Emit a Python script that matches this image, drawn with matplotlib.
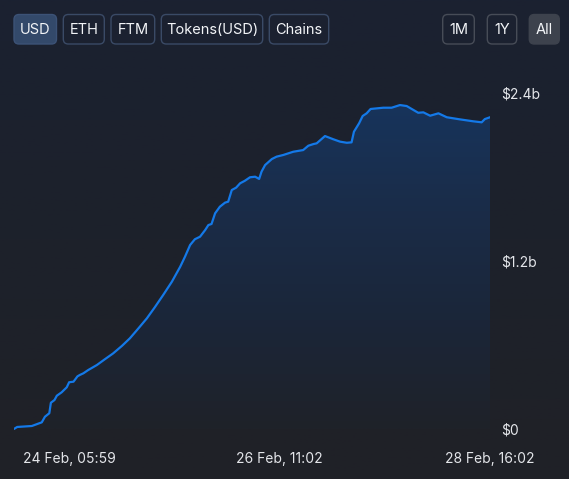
import numpy as np
import pandas as pd
import matplotlib
matplotlib.use("Agg")
import matplotlib.pyplot as plt
from matplotlib.patches import FancyBboxPatch
from matplotlib.colors import LinearSegmentedColormap

plt.rcParams['font.family'] = ['Inter', 'DejaVu Sans']

# hours since start, TVL in billions USD
hours = [0, 0.8, 4.5, 7.0, 7.8, 8.9, 9.3, 10.2, 10.8, 12.0, 13.3, 13.9, 15.0, 16.0,
         16.6, 17.5, 18.7, 20.9, 22.9, 25.0, 27.2, 29.2, 31.3, 33.5, 35.5, 37.6,
         39.8, 41.9, 43.1, 44.4, 45.6, 46.9, 48.2, 49.0,
         49.8, 50.7, 51.9, 53.2, 54.0, 54.9, 56.0, 57.0, 58.2, 59.5, 60.8, 61.8,
         62.4, 63.3, 65.0, 66.2, 67.9, 70.4, 72.9, 74.2, 75.5, 76.3, 78.4, 80.5,
         82.2, 83.9, 85.1, 85.7, 87.0, 87.9, 88.9, 89.9, 93.1, 95.2, 97.3, 99.0,
         101.9, 103.2, 104.9, 107.0, 109.1, 112.4, 115.8, 117.9, 118.7, 120.0]
tvl = [0.004, 0.018, 0.025, 0.051, 0.091, 0.116, 0.191, 0.210, 0.241, 0.265,
       0.301, 0.337, 0.341, 0.379,
       0.389, 0.401, 0.424, 0.460, 0.501, 0.543, 0.596, 0.650, 0.719, 0.793,
       0.872, 0.959, 1.054, 1.161, 1.232, 1.316, 1.357, 1.375, 1.423, 1.458,
       1.466, 1.542, 1.589, 1.618,
       1.625, 1.708, 1.725, 1.756, 1.774, 1.799, 1.803, 1.787, 1.839, 1.886,
       1.929, 1.946, 1.958, 1.981, 1.993, 2.024, 2.036, 2.041, 2.093, 2.070,
       2.053, 2.045, 2.048, 2.124, 2.184, 2.236, 2.255, 2.286, 2.295, 2.295,
       2.314, 2.307, 2.259, 2.262, 2.238, 2.255, 2.227, 2.212, 2.198, 2.191,
       2.214, 2.227]

start = pd.Timestamp('2024-02-23 16:02')
times = start + pd.to_timedelta(hours, unit='h')

xtick_times = [pd.Timestamp('2024-02-24 05:59'), pd.Timestamp('2024-02-26 11:02'),
               pd.Timestamp('2024-02-28 16:02')]
xtick_labels = ['24 Feb, 05:59', '26 Feb, 11:02', '28 Feb, 16:02']
ytick_vals = [0, 1.2, 2.4]
ytick_labels = ['$0', '$1.2b', '$2.4b']

buttons = ['USD', 'ETH', 'FTM', 'Tokens(USD)', 'Chains']
button_x = [(14, 56.5), (63.3, 104.3), (111, 154.7), (161.3, 262.7), (269.3, 328.7)]
ranges = ['1M', '1Y', 'All']
range_x = [(442.7, 474.3), (487.3, 516.7), (529.3, 559.3)]

W, H = 569, 479
fig = plt.figure(figsize=(W / 100, H / 100), dpi=100)

# background
bg = fig.add_axes([0, 0, 1, 1])
bg.set_xlim(0, W)
bg.set_ylim(H, 0)
bg.axis('off')
bg_cmap = LinearSegmentedColormap.from_list('bg', ['#1b2131', '#1d212b', '#202127'])
grad = np.linspace(0, 1, 256).reshape(-1, 1)
bg.imshow(grad, cmap=bg_cmap, extent=[0, W, H, 0], aspect='auto', zorder=0)

def button(x0, x1, label, face, edge):
    p = FancyBboxPatch((x0, 14.5), x1 - x0, 29.5,
                       boxstyle='round,pad=0,rounding_size=5',
                       facecolor=face, edgecolor=edge, linewidth=1.0, zorder=2)
    bg.add_patch(p)
    bg.text((x0 + x1) / 2, 29.5, label, color='#f2f4f7', fontsize=10.5,
            ha='center', va='center', zorder=3)

for lab, (x0, x1) in zip(buttons, button_x):
    if lab == 'USD':
        button(x0, x1, lab, '#33496a', '#3c5276')
    else:
        button(x0, x1, lab, 'none', '#3a4a66')
for lab, (x0, x1) in zip(ranges, range_x):
    if lab == 'All':
        button(x0, x1, lab, '#3d424d', '#3d424d')
    else:
        button(x0, x1, lab, 'none', '#474c57')

# main chart
left = 14 / W
right = 490 / W
bottom = (H - 429.5) / H
top = (H - 93) / H
ax = fig.add_axes([left, bottom, right - left, top - bottom])
ax.patch.set_alpha(0)
for s in ax.spines.values():
    s.set_visible(False)

ax.plot(times, tvl, color='#1479e8', linewidth=1.6, zorder=3, solid_joinstyle='round')
poly = ax.fill_between(times, tvl, 0, color='none', linewidth=0)
fill_cmap = LinearSegmentedColormap.from_list('fill', ['#1f2229', '#1b2639', '#1a2c48', '#17345c'])
img = ax.imshow(grad[::-1], cmap=fill_cmap, aspect='auto', zorder=2,
                extent=[times[0], times[-1], 0, 2.33])
img.set_clip_path(poly.get_paths()[0], transform=ax.transData)

ax.set_xlim(times[0], times[-1])
ax.set_ylim(0, 2.4)
ax.set_xticks(xtick_times)
ax.set_xticklabels(xtick_labels)
ax.yaxis.tick_right()
ax.set_yticks(ytick_vals)
ax.set_yticklabels(ytick_labels)
ax.tick_params(axis='both', length=0, colors='#e4e6ea', labelsize=10)
ax.tick_params(axis='x', pad=16)
ax.tick_params(axis='y', pad=8)
for t in ax.get_yticklabels():
    t.set_horizontalalignment('left')

fig.savefig('out.png', dpi=100, facecolor='#1f2128')
